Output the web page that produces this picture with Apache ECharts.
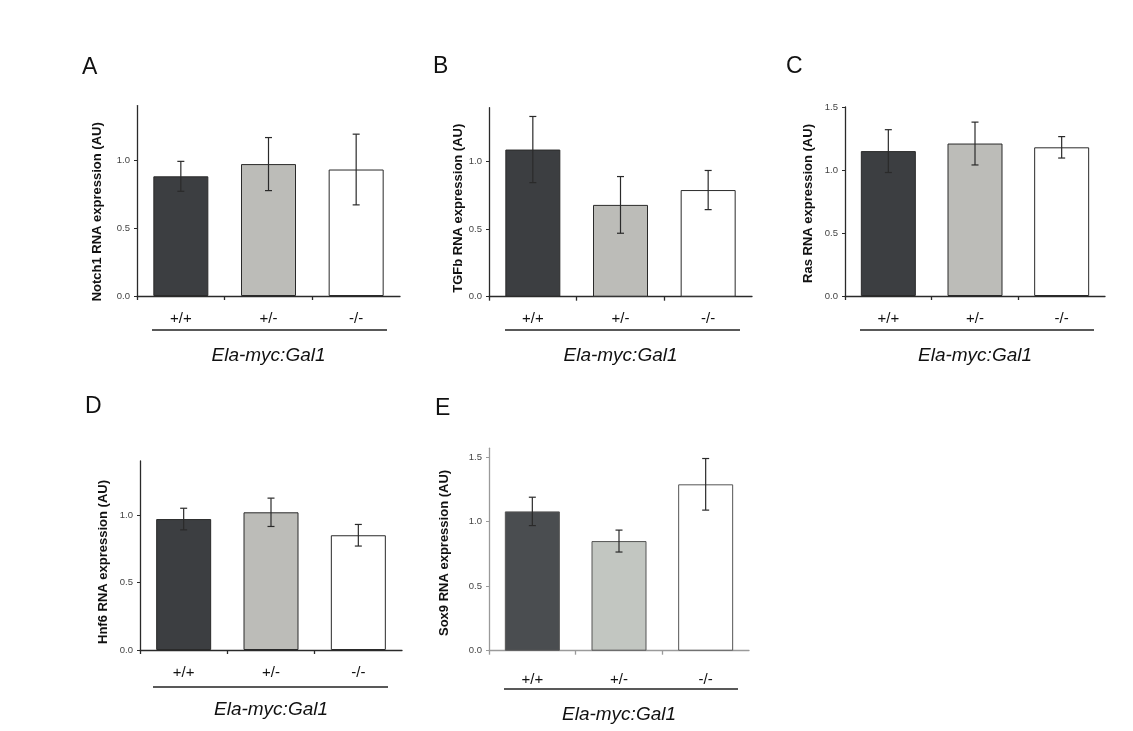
<!DOCTYPE html>
<html>
<head>
<meta charset="utf-8">
<script src="https://cdn.jsdelivr.net/npm/echarts@6/dist/echarts.min.js"></script>
<style>
html,body{margin:0;padding:0;background:#ffffff;}
#chart{width:1133px;height:731px;}
</style>
</head>
<body>
<div id="chart"></div>
<script>
// ---- data ----
const categories = ['+/+', '+/-', '-/-'];
const notch1 = [0.88, 0.97, 0.93];
const notch1Err = [0.11, 0.195, 0.26];
const tgfb = [1.09, 0.68, 0.79];
const tgfbErr = [0.245, 0.21, 0.145];
const ras = [1.15, 1.21, 1.18];
const rasErr = [0.17, 0.17, 0.085];
const hnf6 = [0.97, 1.02, 0.85];
const hnf6Err = [0.08, 0.105, 0.08];
const sox9 = [1.08, 0.85, 1.29];
const sox9Err = [0.11, 0.085, 0.2];
const yTicksA = [0, 0.5, 1.0];
const yTicks15 = [0, 0.5, 1.0, 1.5];
const xName = 'Ela-myc:Gal1';

const FONT = '"Liberation Sans", Arial, sans-serif';

// category slots on a numeric x axis: category k spans [k, k+1], centre k+0.5
const catCentres = categories.map((c, k) => k + 0.5);
const catBounds = categories.map((c, k) => k); // tick at the start of each slot, none at the end

const panels = [
  {letter:'A', title:'Notch1 RNA expression (AU)', vals:notch1, errs:notch1Err, max:1.4, ticks:yTicksA,
   grid:{left:137, top:105.6, width:263, height:190.4}, lx:82, ly:56.5, nameGap:33, namePad:22, labelMargin:15, xGap:50,
   line:[152,387,330], light:false},
  {letter:'B', title:'TGFb RNA expression (AU)', vals:tgfb, errs:tgfbErr, max:1.4, ticks:yTicksA,
   grid:{left:489, top:107.7, width:263, height:189}, lx:433, ly:55, nameGap:15, namePad:12, labelMargin:15, xGap:50,
   line:[505,740,330], light:false},
  {letter:'C', title:'Ras RNA expression (AU)', vals:ras, errs:rasErr, max:1.5, ticks:yTicks15,
   grid:{left:845, top:107, width:260, height:189}, lx:786, ly:55, nameGap:30, namePad:4, labelMargin:15, xGap:50,
   line:[860,1094,330], light:false},
  {letter:'D', title:'Hnf6 RNA expression (AU)', vals:hnf6, errs:hnf6Err, max:1.4, ticks:yTicksA,
   grid:{left:140, top:461, width:262, height:189}, lx:85, ly:395, nameGap:30, namePad:13, labelMargin:15, xGap:50,
   line:[153,388,687], light:false},
  {letter:'E', title:'Sox9 RNA expression (AU)', vals:sox9, errs:sox9Err, max:1.57, ticks:yTicks15,
   grid:{left:489, top:448.2, width:260, height:202.5}, lx:435, ly:397, nameGap:38, namePad:7, labelMargin:22, xGap:55,
   line:[504,738,689], light:true}
];

const grids = [], xAxes = [], yAxes = [], series = [], graphics = [];

function errRender(params, api) {
  const x = api.value(0), v = api.value(1), e = api.value(2);
  const t = api.coord([x, v + e]);
  const b = api.coord([x, v - e]);
  const hw = 3.5;
  const st = {stroke:'#2a2a2a', lineWidth:1.2};
  return {type:'group', children:[
    {type:'line', shape:{x1:t[0], y1:t[1], x2:b[0], y2:b[1]}, style:st},
    {type:'line', shape:{x1:t[0]-hw, y1:t[1], x2:t[0]+hw, y2:t[1]}, style:st},
    {type:'line', shape:{x1:b[0]-hw, y1:b[1], x2:b[0]+hw, y2:b[1]}, style:st}
  ]};
}

panels.forEach((p, i) => {
  grids.push(Object.assign({containLabel:false}, p.grid));
  const axisColor = p.light ? '#9a9a9a' : '#2a2a2a';
  xAxes.push({
    type:'value', gridIndex:i, min:0, max:categories.length,
    splitLine:{show:false},
    axisLine:{show:true, onZero:false, lineStyle:{color:axisColor, width:1.3}},
    axisTick:{show:true, length:4, customValues:catBounds, lineStyle:{color:axisColor, width:1.3}},
    axisLabel:{customValues:catCentres, margin:p.labelMargin, fontSize:15, color:'#111', fontFamily:FONT,
               formatter:v => categories[Math.floor(v)]},
    name:xName, nameLocation:'middle', nameGap:p.xGap,
    nameTextStyle:{fontSize:19, fontStyle:'italic', color:'#111', fontFamily:FONT}
  });
  yAxes.push({
    type:'value', gridIndex:i, min:0, max:p.max,
    splitLine:{show:false},
    axisLine:{show:true, lineStyle:{color:axisColor, width:1.3}},
    axisTick:{show:true, length:3, customValues:p.ticks, lineStyle:{color:axisColor}},
    axisLabel:{customValues:p.ticks, fontSize:9.5, color:'#444', fontFamily:FONT, margin:7,
               formatter:v => v.toFixed(1)},
    name:p.title, nameLocation:'middle', nameGap:p.nameGap,
    nameTextStyle:{fontSize:13, fontWeight:'bold', color:'#111', fontFamily:FONT,
                   padding:[0, p.namePad, 0, 0]}
  });
  const dark = p.light ? '#4a4d50' : '#3c3e41';
  const mid = p.light ? '#c2c6c1' : '#bcbcb8';
  const border = p.light ? '#555' : '#2a2a2a';
  const fills = [dark, mid, '#ffffff'];
  series.push({
    type:'bar', xAxisIndex:i, yAxisIndex:i, barWidth:55,
    data:p.vals.map((v, k) => ({value:[catCentres[k], v], itemStyle:{color:fills[k], borderColor:border, borderWidth:1}})),
    silent:true, animation:false
  });
  series.push({
    type:'custom', xAxisIndex:i, yAxisIndex:i, renderItem:errRender,
    encode:{x:0, y:1}, z:5,
    data:p.vals.map((v, k) => [catCentres[k], v, p.errs[k]]),
    silent:true, animation:false
  });
  graphics.push({type:'text', left:p.lx, top:p.ly,
    style:{text:p.letter, fontSize:23, fontFamily:FONT, fill:'#111'}});
  graphics.push({type:'line', shape:{x1:p.line[0], y1:p.line[2], x2:p.line[1], y2:p.line[2]},
    style:{stroke:'#222', lineWidth:1.6}});
});

const chart = echarts.init(document.getElementById('chart'));
chart.setOption({
  backgroundColor:'#ffffff',
  animation:false,
  grid:grids, xAxis:xAxes, yAxis:yAxes, series:series, graphic:graphics
});
</script>
</body>
</html>
